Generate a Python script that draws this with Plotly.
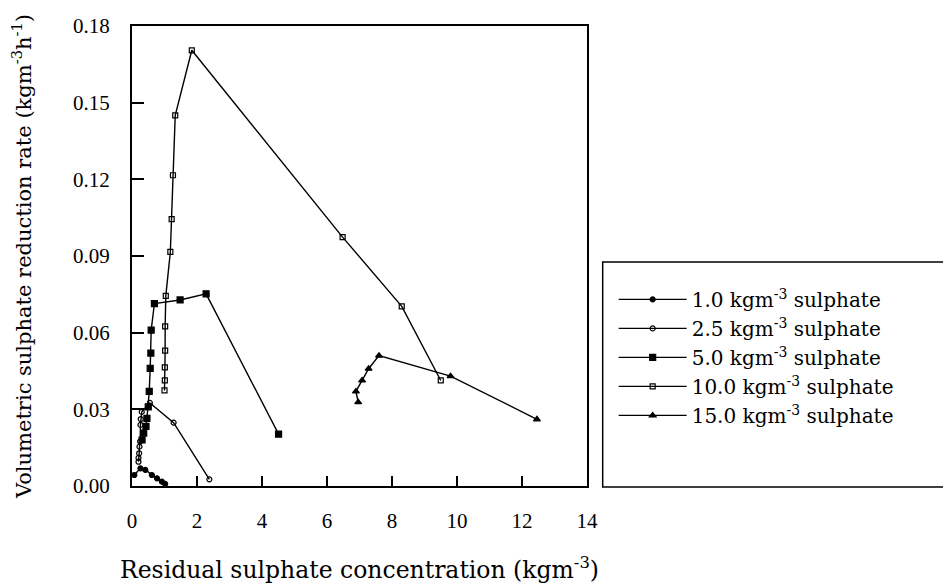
import plotly.graph_objects as go

# Series data (residual sulphate kg/m3, volumetric rate kg/m3/h)
x_1_0 = [0.07, 0.26, 0.41, 0.61, 0.77, 0.92, 1.02]
y_1_0 = [0.0043, 0.0069, 0.0063, 0.0043, 0.0030, 0.0017, 0.0008]

x_2_5 = [0.20, 0.20, 0.22, 0.23, 0.25, 0.26, 0.27, 0.30, 0.55, 1.28, 2.38]
y_2_5 = [0.0095, 0.0110, 0.0128, 0.0154, 0.0174, 0.0239, 0.0262, 0.0290, 0.0325, 0.0248, 0.0026]

x_5_0 = [0.31, 0.36, 0.43, 0.46, 0.50, 0.53, 0.56, 0.58, 0.59, 0.69, 1.48, 2.28, 4.51]
y_5_0 = [0.0180, 0.0207, 0.0233, 0.0265, 0.0310, 0.0370, 0.0460, 0.0520, 0.0610, 0.0714, 0.0728, 0.0752, 0.0203]

x_10_0 = [1.00, 1.01, 1.01, 1.02, 1.02, 1.04, 1.18, 1.22, 1.26, 1.33, 1.84, 6.48, 8.30, 9.50]
y_10_0 = [0.0374, 0.0413, 0.0464, 0.0530, 0.0625, 0.0744, 0.0916, 0.1044, 0.1216, 0.1450, 0.1705, 0.0974, 0.0703, 0.0413]

x_15_0 = [6.96, 6.89, 7.08, 7.28, 7.60, 9.80, 12.46]
y_15_0 = [0.0328, 0.0370, 0.0413, 0.0459, 0.0510, 0.0430, 0.0261]

series_names = [
    "1.0 kgm<sup>-3</sup> sulphate",
    "2.5 kgm<sup>-3</sup> sulphate",
    "5.0 kgm<sup>-3</sup> sulphate",
    "10.0 kgm<sup>-3</sup> sulphate",
    "15.0 kgm<sup>-3</sup> sulphate",
]
x_ticks = [0, 2, 4, 6, 8, 10, 12, 14]
y_ticks = [0.00, 0.03, 0.06, 0.09, 0.12, 0.15, 0.18]

data = [
    (x_1_0, y_1_0, "circle", 5),
    (x_2_5, y_2_5, "circle-open", 5),
    (x_5_0, y_5_0, "square", 6),
    (x_10_0, y_10_0, "square-open", 5),
    (x_15_0, y_15_0, "triangle-up", 6),
]

fig = go.Figure()
for (xs, ys, sym, sz), name in zip(data, series_names):
    fig.add_trace(go.Scatter(
        x=xs, y=ys, mode="lines+markers", name=name,
        line=dict(color="black", width=1.4),
        marker=dict(symbol=sym, size=sz, color="black",
                    line=dict(color="black", width=1.2)),
    ))

tick_font = dict(family="Liberation Serif", size=21, color="black")

# page body has an 8px margin, so figure is sized to fit the 951x588 window
fig.update_layout(
    width=943, height=580,
    margin=dict(l=124, r=364, t=18, b=102, autoexpand=False),
    paper_bgcolor="white", plot_bgcolor="white",
    showlegend=True,
    legend=dict(
        x=1.0586, xanchor="left", y=0.448, yanchor="top",
        font=dict(family="DejaVu Serif", size=20, color="black"),
        borderwidth=0, bgcolor="rgba(0,0,0,0)",
        itemwidth=68, tracegroupgap=0,
    ),
    shapes=[dict(
        type="rect", xref="paper", yref="paper",
        x0=1.0345, x1=1.7917, y0=-0.002, y1=0.487,
        line=dict(color="black", width=1.5), fillcolor="rgba(0,0,0,0)",
        layer="above",
    )],
)
fig.update_xaxes(
    range=[0, 14], tickvals=x_ticks, ticktext=[str(v) for v in x_ticks],
    ticks="inside", ticklen=10, tickwidth=1.5, tickcolor="black",
    showline=True, linecolor="black", linewidth=2, mirror=True,
    showgrid=False, zeroline=False, tickfont=tick_font,
    ticklabelstandoff=15, automargin=False,
    title=dict(text="Residual sulphate concentration (kgm<sup>-3</sup>)",
               font=dict(family="DejaVu Serif", size=23.5, color="black"), standoff=29),
)
fig.update_yaxes(
    range=[0, 0.18], tickvals=y_ticks, ticktext=[f"{v:.2f}" for v in y_ticks],
    ticks="inside", ticklen=12, tickwidth=1.5, tickcolor="black",
    showline=True, linecolor="black", linewidth=2, mirror=True,
    showgrid=False, zeroline=False, tickfont=tick_font,
    ticklabelstandoff=16, automargin=False,
    title=dict(text="Volumetric sulphate reduction rate (kgm<sup>-3</sup>h<sup>-1</sup>)",
               font=dict(family="DejaVu Serif", size=21, color="black"), standoff=44),
)

fig.write_html("out.html")
